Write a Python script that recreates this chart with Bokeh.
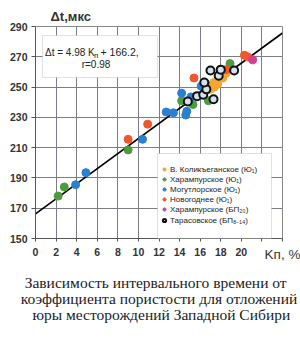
from bokeh.plotting import figure
from bokeh.models import (Range1d, FixedTicker, Label, BoxAnnotation, Legend,
                          LegendItem, Title)
from bokeh.embed import file_html
from bokeh.resources import INLINE

# ---- data ----
kolik_x = [17.0, 17.3, 17.4, 17.7, 18.2, 18.5]
kolik_y = [248.5, 253.0, 250.0, 252.0, 256.0, 259.0]

haramp_x = [2.2, 2.8, 9.0, 14.2, 15.3, 16.8, 18.9]
haramp_y = [178.0, 184.0, 208.5, 241.0, 238.5, 241.0, 265.5]

mogut_x = [3.9, 4.9, 10.4, 12.7, 13.4, 14.6, 14.7, 14.2, 15.1, 16.1, 16.5]
mogut_y = [185.5, 193.5, 215.5, 233.5, 233.0, 231.5, 234.0, 246.0, 243.5, 250.5, 252.5]

novog_x = [9.0, 10.9, 15.4, 18.5, 20.3, 20.6]
novog_y = [215.5, 225.5, 256.0, 261.5, 271.0, 270.0]

harampbp_x = [21.1]
harampbp_y = [268.0]

taras_x = [14.8, 15.7, 16.3, 16.6, 16.4, 17.3, 17.0, 17.8, 18.0, 19.3]
taras_y = [240.5, 244.0, 245.0, 248.5, 253.0, 242.0, 261.0, 257.5, 261.5, 261.0]

slope, intercept, r_value = 4.98, 166.2, 0.98
line_x = [0, 24]

x_ticks = [0, 2, 4, 6, 8, 10, 12, 14, 16, 18, 20, 22, 24]
y_ticks = [150, 170, 190, 210, 230, 250, 270, 290]

names = ["В. Коликъеганское (Ю\u2081)", "Харампурское (Ю\u2081)", "Могутлорское (Ю\u2081)",
         "Новогоднее (Ю\u2081)", "Харампурское (БП\u2082\u2080)", "Тарасовское (БП\u2088\u208b\u2081\u2084)"]
caption = ["Зависимость интервального времени от",
           "коэффициента пористости для отложений",
           "юры месторождений Западной Сибири"]
x_title = "Kп, %"
y_title = "\u0394t,мкс"

SANS = "Liberation Sans"
SERIF = "Liberation Serif"
NB = "\u00a0"

p = figure(width=300, height=339, output_backend="svg", toolbar_location=None,
           x_range=Range1d(0, 24), y_range=Range1d(150, 290),
           min_border_left=35, min_border_right=18, min_border_top=26,
           min_border_bottom=101, background_fill_color="white",
           border_fill_color="white")
p.outline_line_color = "#888888"
p.outline_line_width = 1

for ax, ticks in ((p.xaxis[0], x_ticks), (p.yaxis[0], y_ticks)):
    ax.ticker = FixedTicker(ticks=ticks)
    ax.axis_line_color = "#555555"
    ax.major_tick_line_color = "#555555"
    ax.minor_tick_line_color = None
    ax.major_tick_in = 0
    ax.major_label_text_font = SANS
    ax.major_label_text_font_size = "10.5px"
    ax.major_label_text_font_style = "bold"
    ax.major_label_text_color = "#333333"
p.xaxis.major_tick_out = 3
p.yaxis.major_tick_out = 4
p.xaxis.major_label_standoff = 6
p.yaxis.major_label_standoff = 4
p.xaxis.major_label_overrides = {22: "", 24: ""}

# x axis title on the tick-label line, at the right end
xa = p.xaxis[0]
xa.axis_label = x_title
xa.axis_label_text_font = SANS
xa.axis_label_text_font_size = "13.5px"
xa.axis_label_text_font_style = "normal"
xa.axis_label_text_color = "#333333"
xa.axis_label_standoff = -12
try:
    xa.axis_label_align = "end"
except Exception:
    pass

p.xgrid.ticker = FixedTicker(ticks=x_ticks)
p.ygrid.ticker = FixedTicker(ticks=y_ticks)
p.grid.grid_line_color = "#7c7c86"
p.grid.grid_line_width = 1

# regression line
p.line(line_x, [slope * v + intercept for v in line_x], line_color="black", line_width=1.6)

r1 = p.scatter(kolik_x, kolik_y, size=8, fill_color="#f5a531", line_color="#f5a531")
r2 = p.scatter(haramp_x, haramp_y, size=8, fill_color="#4f9a3e", line_color="#4f9a3e")
r3 = p.scatter(mogut_x, mogut_y, size=8, fill_color="#2b7fd0", line_color="#2b7fd0")
r4 = p.scatter(novog_x, novog_y, size=8, fill_color="#f2562c", line_color="#f2562c")
r5 = p.scatter(harampbp_x, harampbp_y, size=8, fill_color="#d4408d", line_color="#d4408d")
r6 = p.scatter(taras_x, taras_y, size=8, fill_color="#d3e2ee", line_color="#111111", line_width=2)

# equation box
p.add_layout(BoxAnnotation(left=0.68, right=11.85, top=284.0, bottom=256.3,
                           fill_color="white", fill_alpha=1.0,
                           line_color="#9a9a9a", line_width=1))
eq_y = 150 + (238 - 52) / 1.514
p.add_layout(Label(x=(44.5 - 35) / 10.29, y=eq_y, text="\u0394t = 4.98 K",
                   text_font=SANS, text_font_size="10px", text_color="#222222",
                   text_baseline="middle", text_align="left"))
p.add_layout(Label(x=(93.5 - 35) / 10.29, y=eq_y, y_offset=-3, text="п",
                   text_font=SANS, text_font_size="8px", text_color="#222222",
                   text_baseline="middle", text_align="left"))
p.add_layout(Label(x=(100 - 35) / 10.29, y=eq_y, text="+ %.1f," % intercept,
                   text_font=SANS, text_font_size="10.5px", text_color="#222222",
                   text_baseline="middle", text_align="left"))
p.add_layout(Label(x=(95.5 - 35) / 10.29, y=150 + (238 - 64) / 1.514, text="r=%.2f" % r_value,
                   text_font=SANS, text_font_size="10px", text_color="#222222",
                   text_baseline="middle", text_align="center"))

# legend box + legend
p.add_layout(BoxAnnotation(left=(157 - 35) / 10.29, right=(271 - 35) / 10.29,
                           top=150 + (238 - 153) / 1.514, bottom=150,
                           fill_color="white", fill_alpha=1.0,
                           line_color="#9a9a9a", line_width=1))
legend = Legend(items=[LegendItem(label=n, renderers=[r]) for n, r in
                       zip(names, [r1, r2, r3, r4, r5, r6])],
                location=(125, 13), orientation="vertical",
                background_fill_alpha=0, border_line_color=None,
                label_text_font=SANS, label_text_font_size="8px",
                label_text_color="#222222", label_height=10, glyph_height=8,
                glyph_width=8, label_standoff=2, spacing=0, padding=3, margin=0)
p.add_layout(legend)

# y axis title above the plot
p.add_layout(Title(text=y_title, align="left", offset=15, standoff=5,
                   text_font=SANS, text_font_size="13px", text_font_style="bold",
                   text_color="#333333"), "above")

# caption below (spacer, then three lines in one title; lines centred by padding)
cap_lines = [NB * 1 + caption[0], caption[1], NB * 3 + caption[2]]
p.add_layout(Title(text=" ", text_font_size="6px", standoff=0), "below")
p.add_layout(Title(text="\n".join(cap_lines), align="center", offset=-4,
                   text_font=SERIF, text_font_size="15.5px", text_font_style="normal",
                   text_color="#222222", text_line_height=0.95, standoff=0), "below")

open("out.html", "w").write(file_html(p, INLINE))
